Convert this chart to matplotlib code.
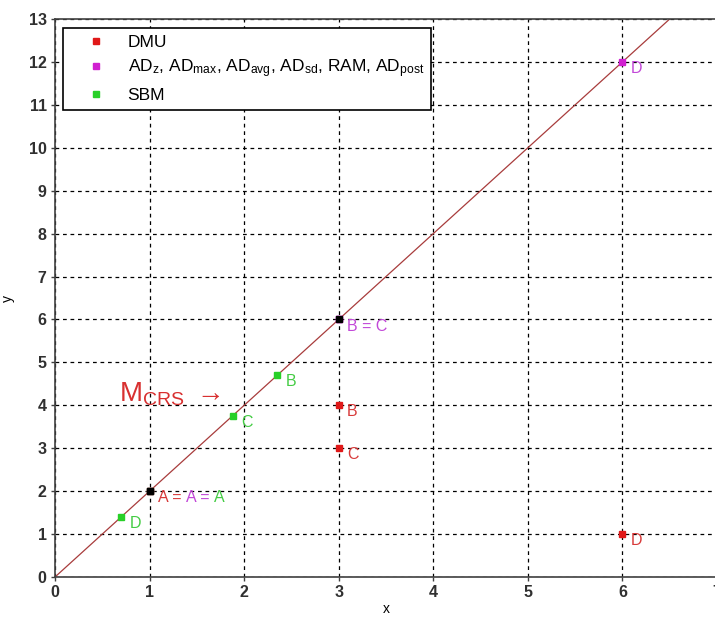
import matplotlib
matplotlib.use("Agg")
import matplotlib.pyplot as plt

# police proche d'Arial
plt.rcParams['font.family'] = ['Liberation Sans', 'DejaVu Sans']
plt.rcParams['mathtext.fontset'] = 'custom'
plt.rcParams['mathtext.rm'] = 'Liberation Sans'
plt.rcParams['mathtext.it'] = 'Liberation Sans'

# donnees
dmu_x = [1, 3, 3, 6]
dmu_y = [2, 4, 3, 1]
dmu_lab = ['A', 'B', 'C', 'D']

ad_x = [1, 3, 3, 6]
ad_y = [2, 6, 6, 12]

sbm_x = [1, 2.35, 1.88, 0.7]
sbm_y = [2, 4.7, 3.76, 1.4]
sbm_lab = ['A', 'B', 'C', 'D']

common_x = [1, 3]
common_y = [2, 6]

frontier_x = [0, 7]
frontier_y = [0, 14]

rouge, magenta, vert = '#e01818', '#d020d0', '#28d028'
trouge, tmagenta, tvert = '#d83a3a', '#c248d8', '#44cc44'

fig = plt.figure(figsize=(7.15, 6.17), dpi=100)
ax = fig.add_axes([55 / 715, 40 / 617, 662 / 715, 558 / 617])

ax.plot(frontier_x, frontier_y, color='#a83c3c', lw=0.9, zorder=2)

ax.plot(dmu_x, dmu_y, 's', color=rouge, ms=4.5, ls='none', label='DMU', zorder=3)
ax.plot(ad_x, ad_y, 's', color=magenta, ms=4.5, ls='none',
        label=r'AD$_{\mathregular{z}}$, AD$_{\mathregular{max}}$, AD$_{\mathregular{avg}}$, '
              r'AD$_{\mathregular{sd}}$, RAM, AD$_{\mathregular{post}}$', zorder=3)
ax.plot(sbm_x, sbm_y, 's', color=vert, ms=4.5, ls='none', label='SBM', zorder=3)
ax.plot(common_x, common_y, 's', color='black', ms=4.5, ls='none', zorder=4)

fs = 11.5
# etiquettes DMU
for x, y, s in zip(dmu_x[1:], dmu_y[1:], dmu_lab[1:]):
    ax.annotate(s, (x, y), xytext=(6, -8), textcoords='offset points',
                color=trouge, fontsize=fs)
# etiquettes SBM
for x, y, s in zip(sbm_x[1:], sbm_y[1:], sbm_lab[1:]):
    ax.annotate(s, (x, y), xytext=(6, -8), textcoords='offset points',
                color=tvert, fontsize=fs)
ax.annotate('D', (ad_x[3], ad_y[3]), xytext=(6, -8), textcoords='offset points',
            color=tmagenta, fontsize=fs)
ax.annotate('B = C', (ad_x[1], ad_y[1]), xytext=(6, -8), textcoords='offset points',
            color=tmagenta, fontsize=fs)

# A = A = A en trois couleurs
t1 = ax.annotate('A = ', (dmu_x[0], dmu_y[0]), xytext=(6, -8),
                 textcoords='offset points', color=trouge, fontsize=fs)
t2 = ax.annotate('A = ', xy=(1, 0), xycoords=t1, va='bottom',
                 color=tmagenta, fontsize=fs)
ax.annotate('A', xy=(1, 0), xycoords=t2, va='bottom', color=tvert, fontsize=fs)

ax.text(0.68, 4.1, r'M$_{\mathregular{CRS}}$ $\rightarrow$', color='#d83030', fontsize=20)

ax.set_xlim(0, 7)
ax.set_ylim(0, 13)
ax.set_xticks(range(0, 8))
ax.set_yticks(range(0, 14))
ax.grid(True, color='black', ls=(0, (3, 3)), lw=0.9)
ax.tick_params(direction='out', length=3, width=1, color='#404040',
               labelsize=11.5, pad=3)
for lab in ax.get_xticklabels() + ax.get_yticklabels():
    lab.set_fontweight('bold')
    lab.set_color('#303030')
for sp in ax.spines.values():
    sp.set_color('#404040')
    sp.set_linewidth(1.2)
ax.set_xlabel('x', fontsize=10, labelpad=1)
ax.set_ylabel('y', fontsize=10, labelpad=10)

leg = ax.legend(loc='upper left', bbox_to_anchor=(0.012, 0.984), fontsize=12.5,
                fancybox=False, edgecolor='black', framealpha=1,
                handlelength=3.0, handletextpad=0.3, borderpad=0.42,
                labelspacing=0.42, borderaxespad=0)
leg.get_frame().set_linewidth(1.2)

fig.savefig('out.png', dpi=100)
